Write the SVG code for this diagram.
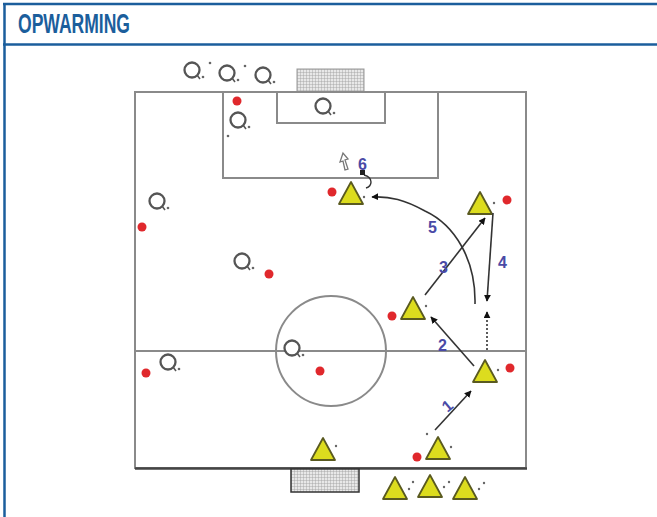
<svg xmlns="http://www.w3.org/2000/svg" width="657" height="517" viewBox="0 0 657 517">
<defs>
<style>
.frame{stroke:#1b5e9c;stroke-width:2.5;fill:none}
.title{font-family:"Liberation Sans Narrow","Liberation Sans",Arial,sans-serif;font-weight:bold;font-size:27px;fill:#1b5e9c}
.ln{stroke:#8a8a8a;stroke-width:2;fill:none}
.pl{stroke:#555;stroke-width:2.3;fill:#fff}
.tail{stroke:#555;stroke-width:1.6;fill:none}
.tri{fill:#dcdc1e;stroke:#5a5a20;stroke-width:1.8;stroke-linejoin:round}
.rd{fill:#e0282c}
.mk{fill:#666}
.arr{stroke:#333;stroke-width:1.6;fill:none;marker-end:url(#ah)}
.lab{font-family:"Liberation Sans",Arial,sans-serif;font-weight:bold;font-size:16px;fill:#4a4aa6}
</style>
<marker id="ah" viewBox="0 0 10 10" refX="9" refY="5" markerWidth="7" markerHeight="7" orient="auto" markerUnits="userSpaceOnUse">
<path d="M0,0 L10,5 L0,10 z" fill="#111"/>
</marker>
<pattern id="net" width="3" height="3" patternUnits="userSpaceOnUse">
<rect width="3" height="3" fill="#e8e8e8"/>
<path d="M0,0 H3 M0,0 V3" stroke="#9a9a9a" stroke-width="0.8"/>
</pattern>
<g id="player">
<circle cx="0" cy="0" r="7.5" class="pl"/>
<path d="M5,5 L8,9" class="tail"/>
<circle cx="11" cy="7" r="1.3" class="mk"/>
</g>
<polygon id="tr" points="0,-11 -12,11 12,11" class="tri"/>
</defs>

<g id="header">
<path d="M3,4 H657" class="frame"/>
<path d="M3,44.5 H657" class="frame" stroke-width="3"/>
<path d="M4.5,3 V517" class="frame"/>
<text x="18" y="33" class="title" textLength="112" lengthAdjust="spacingAndGlyphs">OPWARMING</text>
</g>

<g id="pitch">
<rect x="297" y="69" width="67" height="23" fill="url(#net)" stroke="#999" stroke-width="1"/>
<rect x="135" y="92" width="391" height="376" class="ln"/>
<rect x="223" y="92" width="215" height="86" class="ln"/>
<rect x="277" y="92" width="108" height="31" class="ln"/>
<line x1="135" y1="351" x2="526" y2="351" class="ln" stroke="#666"/>
<circle cx="331" cy="351" r="55" class="ln" stroke="#555" stroke-width="1.6"/>
<line x1="135" y1="468.5" x2="527" y2="468.5" stroke="#444" stroke-width="2.5"/>
<rect x="291" y="469" width="68" height="23" fill="url(#net)" stroke="#333" stroke-width="1.5"/>
</g>

<g id="players">
<use href="#player" x="192" y="70"/>
<use href="#player" x="227" y="73"/>
<use href="#player" x="263" y="75"/>
<use href="#player" x="323" y="106"/>
<use href="#player" x="238" y="120"/>
<use href="#player" x="157" y="201"/>
<use href="#player" x="242" y="261"/>
<use href="#player" x="292" y="348"/>
<use href="#player" x="168" y="362"/>
<circle cx="210" cy="63" r="1.3" class="mk"/>
<circle cx="245" cy="66" r="1.3" class="mk"/>
<circle cx="228" cy="136" r="1.3" class="mk"/>
</g>

<g id="reddots">
<circle cx="237" cy="101" r="4.5" class="rd"/>
<circle cx="142" cy="227" r="4.5" class="rd"/>
<circle cx="269" cy="274" r="4.5" class="rd"/>
<circle cx="320" cy="371" r="4.5" class="rd"/>
<circle cx="146" cy="373" r="4.5" class="rd"/>
<circle cx="332" cy="192" r="4.5" class="rd"/>
<circle cx="507" cy="200" r="4.5" class="rd"/>
<circle cx="392" cy="316" r="4.5" class="rd"/>
<circle cx="510" cy="368" r="4.5" class="rd"/>
<circle cx="417" cy="457" r="4.5" class="rd"/>
</g>

<g id="triangles">
<use href="#tr" x="351" y="193"/>
<use href="#tr" x="480" y="203"/>
<use href="#tr" x="413" y="308"/>
<use href="#tr" x="485" y="371"/>
<use href="#tr" x="438" y="448"/>
<use href="#tr" x="323" y="449"/>
<use href="#tr" x="395" y="488"/>
<use href="#tr" x="430" y="486"/>
<use href="#tr" x="465" y="488"/>
<circle cx="364" cy="197" r="1.2" class="mk"/>
<circle cx="494" cy="203" r="1.2" class="mk"/>
<circle cx="426" cy="306" r="1.2" class="mk"/>
<circle cx="498" cy="370" r="1.2" class="mk"/>
<circle cx="451" cy="447" r="1.2" class="mk"/>
<circle cx="427" cy="434" r="1.2" class="mk"/>
<circle cx="336" cy="446" r="1.2" class="mk"/>
<circle cx="409" cy="489" r="1.2" class="mk"/>
<circle cx="413" cy="482" r="1.2" class="mk"/>
<circle cx="444" cy="487" r="1.2" class="mk"/>
<circle cx="449" cy="482" r="1.2" class="mk"/>
<circle cx="479" cy="489" r="1.2" class="mk"/>
<circle cx="484" cy="483" r="1.2" class="mk"/>
</g>

<g id="connectors">
<line x1="435" y1="430" x2="471" y2="391" class="arr"/>
<line x1="474" y1="366" x2="431" y2="317" class="arr"/>
<line x1="425" y1="295" x2="485" y2="218" class="arr"/>
<line x1="493" y1="213" x2="487" y2="301" class="arr"/>
<line x1="487" y1="350" x2="487" y2="312" class="arr" stroke-dasharray="2,2"/>
<path d="M475,304 C476,260 455,225 425,211 C405,200 390,196 372,197" class="arr"/>
<path d="M364,175 C374,178 372,186 366,188" fill="none" stroke="#333" stroke-width="1.4"/>
<rect x="360" y="170" width="5" height="5" fill="#222"/>
<path d="M345,170 L343,161 L340,162 L343,153 L348,159 L345,160 L348,169 z" fill="#fff" stroke="#777" stroke-width="1.3"/>
</g>

<g id="labels">
<text x="445" y="414" class="lab" font-size="12" transform="rotate(-40 445 410)">1</text>
<text x="438" y="351" class="lab">2</text>
<text x="439" y="273" class="lab">3</text>
<text x="498" y="268" class="lab">4</text>
<text x="428" y="233" class="lab">5</text>
<text x="358" y="170" class="lab">6</text>
</g>
</svg>
